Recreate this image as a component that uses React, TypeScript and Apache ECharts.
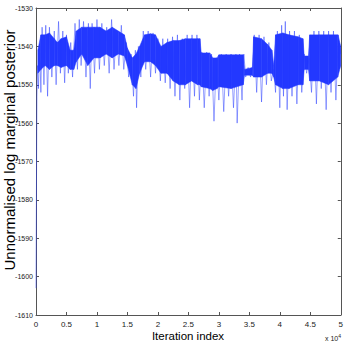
import React, { useEffect, useRef } from "react";
import * as echarts from "echarts";

// Tick values
const xTicks = [0, 0.5, 1, 1.5, 2, 2.5, 3, 3.5, 4, 4.5, 5];
const yTicks = [-1610, -1600, -1590, -1580, -1570, -1560, -1550, -1540, -1530];

// Dense core of the trace (iteration in units of 10^4, upper and lower edge)
const coreX = [0.03, 0.08, 0.15, 0.22, 0.3, 0.35, 0.41, 0.5, 0.56, 0.62, 0.66, 0.75, 0.85, 0.95, 1.05, 1.15, 1.25, 1.35, 1.45, 1.5, 1.58, 1.64, 1.7, 1.78, 1.88, 1.96, 2.05, 2.15, 2.25, 2.35, 2.45, 2.55, 2.65, 2.69, 2.71, 2.85, 2.9, 2.97, 3.0, 3.2, 3.4, 3.42, 3.55, 3.57, 3.7, 3.8, 3.87, 3.9, 3.93, 4.05, 4.15, 4.3, 4.38, 4.4, 4.47, 4.49, 4.65, 4.8, 4.95, 5.0];
const coreHi = [-1541, -1537, -1537, -1536.5, -1538, -1539, -1538, -1537.5, -1541, -1541, -1536, -1535, -1535, -1535, -1535, -1536, -1535, -1536, -1537, -1540.5, -1543, -1542, -1540, -1537, -1536.7, -1537, -1540, -1539, -1538.5, -1538.5, -1538, -1538, -1538, -1538, -1541.7, -1541.7, -1543, -1543, -1542.2, -1542.2, -1542.2, -1546, -1545.5, -1537.5, -1538, -1539.5, -1541, -1545, -1537, -1536.5, -1537, -1537.5, -1538, -1542.5, -1542.5, -1537, -1537, -1537, -1537, -1540];
const coreLo = [-1547, -1546, -1545, -1546, -1545, -1545, -1545.5, -1545, -1546, -1546, -1544, -1542, -1545, -1543, -1543, -1542, -1543, -1542, -1542.5, -1545, -1550, -1551, -1547, -1544, -1544, -1545, -1547, -1547, -1549, -1550, -1550, -1549, -1550, -1550, -1550.5, -1551, -1551.5, -1551, -1550.5, -1551, -1550, -1547.5, -1547.5, -1548, -1548, -1547, -1547, -1548, -1550, -1551, -1551, -1550, -1550, -1546, -1546, -1549, -1549, -1550, -1548, -1545];

// Excursions of the trace (burn-in start and spikes)
const spikeX = [0, 0.008, 0.015, 0.025, 0.04, 0.06, 0.08, 0.1, 0.13, 0.16, 0.19, 0.22, 0.26, 0.3, 0.33, 0.37, 0.4, 0.44, 0.47, 0.5, 0.53, 0.57, 0.6, 0.64, 0.68, 0.71, 0.74, 0.78, 0.82, 0.86, 0.89, 0.92, 0.96, 1.0, 1.04, 1.08, 1.12, 1.16, 1.2, 1.24, 1.28, 1.32, 1.36, 1.4, 1.44, 1.48, 1.52, 1.56, 1.6, 1.63, 1.65, 1.68, 1.72, 1.76, 1.8, 1.84, 1.88, 1.92, 1.96, 2.0, 2.04, 2.08, 2.12, 2.16, 2.2, 2.24, 2.28, 2.32, 2.36, 2.4, 2.44, 2.48, 2.52, 2.56, 2.6, 2.64, 2.68, 2.72, 2.76, 2.8, 2.84, 2.88, 2.92, 2.96, 3.0, 3.04, 3.08, 3.12, 3.16, 3.2, 3.24, 3.28, 3.3, 3.34, 3.38, 3.41, 3.44, 3.48, 3.52, 3.56, 3.58, 3.62, 3.66, 3.7, 3.74, 3.78, 3.82, 3.86, 3.9, 3.93, 3.96, 4.0, 4.03, 4.06, 4.09, 4.12, 4.16, 4.2, 4.24, 4.28, 4.32, 4.36, 4.4, 4.44, 4.48, 4.52, 4.56, 4.6, 4.64, 4.68, 4.72, 4.76, 4.8, 4.84, 4.88, 4.92, 4.96, 5.0];
const spikeY = [-1603, -1575, -1553, -1545, -1551, -1540, -1552, -1535, -1550, -1534.5, -1553, -1535, -1548, -1536, -1550, -1533.5, -1547, -1536, -1549.5, -1537, -1547, -1539, -1548, -1534, -1546, -1533, -1545, -1533.5, -1548, -1534, -1551, -1534, -1547, -1533, -1546, -1534, -1545, -1535, -1547, -1533, -1546, -1536, -1545, -1534.5, -1546, -1539, -1548, -1542, -1553, -1541, -1556, -1540, -1548, -1536, -1546, -1536, -1548, -1536.5, -1547, -1538, -1549, -1538, -1549.5, -1538, -1551, -1537.5, -1553, -1537, -1554, -1538, -1551, -1537, -1556, -1537, -1553, -1537, -1554, -1541.5, -1556, -1541.5, -1553, -1542, -1559.5, -1543, -1554, -1542, -1557, -1542, -1553, -1542, -1556, -1542, -1560, -1542, -1554, -1542, -1548, -1545.5, -1548, -1545, -1537, -1552, -1537, -1554.5, -1537.5, -1550, -1539, -1549, -1546, -1552, -1536, -1556, -1534.5, -1553, -1533.5, -1556.5, -1536, -1553, -1536, -1555, -1537, -1552, -1542, -1547, -1543, -1552, -1536, -1555, -1536, -1551, -1536, -1556.5, -1536, -1552, -1536, -1554, -1537, -1542];

const xTitle = "Iteration index";
const yTitle = "Unnormalised log marginal posterior";

export default function App() {
  const ref = useRef<HTMLDivElement>(null);
  useEffect(() => {
    document.body.style.margin = "0";
    if (!ref.current) return;
    const chart = echarts.init(ref.current, null, { renderer: "svg" });
    const axisColor = "#555";
    const font = "'Liberation Sans Narrow', 'Liberation Sans', Arial, sans-serif";
    const xMin = xTicks[0];
    const xMax = xTicks[xTicks.length - 1];
    const yMin = yTicks[0];
    const yMax = yTicks[yTicks.length - 1];
    const commonX = {
      type: "value" as const,
      min: xMin,
      max: xMax,
      interval: 0.5,
      splitLine: { show: false },
      axisLine: { show: true, onZero: false, lineStyle: { color: axisColor, width: 1 } },
      axisTick: { show: true, inside: true, length: 3, lineStyle: { color: axisColor } },
    };
    const commonY = {
      type: "value" as const,
      min: yMin,
      max: yMax,
      interval: 10,
      splitLine: { show: false },
      axisLine: { show: true, onZero: false, lineStyle: { color: axisColor, width: 1 } },
      axisTick: { show: true, inside: true, length: 3, lineStyle: { color: axisColor } },
    };
    const blue = "#2338ff";
    const bandData = coreX.slice(0, -1).map((x, i) => [x, coreLo[i], coreHi[i], coreX[i + 1], coreLo[i + 1], coreHi[i + 1]]);
    chart.setOption({
      animation: false,
      backgroundColor: "#ffffff",
      grid: { left: 36, right: 5, top: 8, bottom: 31, containLabel: false },
      xAxis: [
        {
          ...commonX,
          position: "bottom",
          axisLabel: { show: true, color: "#222", fontSize: 8, fontFamily: font, margin: 5, formatter: (v: number) => String(v) },
        },
        { ...commonX, position: "top", axisLabel: { show: false } },
      ],
      yAxis: [
        {
          ...commonY,
          position: "left",
          axisLabel: { show: true, color: "#222", fontSize: 7, fontFamily: font, margin: 3, formatter: (v: number) => String(v) },
        },
        { ...commonY, position: "right", axisLabel: { show: false } },
      ],
      graphic: [
        {
          type: "text",
          x: 188,
          y: 336,
          style: { text: xTitle, font: `11.5px 'Liberation Sans', Arial, sans-serif`, fill: "#000", textAlign: "center", textVerticalAlign: "middle" },
        },
        {
          type: "text",
          x: 9,
          y: 150,
          rotation: Math.PI / 2,
          style: { text: yTitle, font: `15px 'Liberation Sans', Arial, sans-serif`, fill: "#000", textAlign: "center", textVerticalAlign: "middle" },
        },
        {
          type: "text",
          x: 325,
          y: 338,
          style: {
            text: "{a|x 10}{b|4}",
            textVerticalAlign: "middle",
            rich: {
              a: { fontSize: 7, fontFamily: font, fill: "#222", color: "#222" },
              b: { fontSize: 5, fontFamily: font, fill: "#222", color: "#222", verticalAlign: "top", padding: [0, 0, 5, 0] },
            },
          },
        },
      ],
      series: [
        {
          type: "custom",
          silent: true,
          clip: true,
          z: 2,
          data: bandData,
          encode: { x: [0, 3], y: [1, 2, 4, 5] },
          renderItem: (params: any, api: any) => {
            const a1 = api.coord([api.value(0), api.value(2)]);
            const b1 = api.coord([api.value(3), api.value(5)]);
            const b0 = api.coord([api.value(3), api.value(4)]);
            const a0 = api.coord([api.value(0), api.value(1)]);
            return {
              type: "polygon",
              shape: { points: [a1, b1, b0, a0] },
              style: { fill: blue, stroke: blue, lineWidth: 0.5 },
            };
          },
        },
        {
          type: "line",
          symbol: "none",
          silent: true,
          lineStyle: { width: 0.8, color: blue, opacity: 0.6 },
          data: spikeX.map((x, i) => [x, spikeY[i]]),
          z: 3,
        },
      ],
    });
    return () => chart.dispose();
  }, []);
  return <div ref={ref} style={{ width: 346, height: 346 }} />;
}
